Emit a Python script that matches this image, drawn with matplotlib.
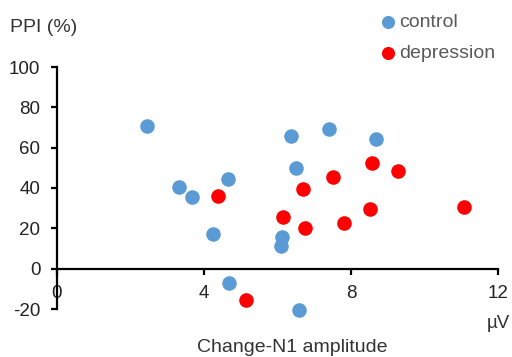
import matplotlib
matplotlib.use("Agg")
import matplotlib.pyplot as plt

plt.rcParams['font.family'] = ['Liberation Sans', 'DejaVu Sans']
plt.rcParams['axes.unicode_minus'] = False

# control group: Change-N1 amplitude (uV) vs PPI (%)
control_x = [2.45, 3.32, 3.67, 4.24, 4.65, 4.68, 6.37, 6.5, 7.4, 8.68, 6.12, 6.1, 6.59]
control_y = [70.6, 40.3, 35.3, 17.4, 44.3, -7.0, 65.7, 49.8, 69.5, 64.2, 15.9, 11.2, -20.4]

# depression group
depr_x = [4.38, 5.14, 6.15, 6.69, 6.75, 7.51, 7.81, 8.57, 8.52, 9.28, 11.07]
depr_y = [35.8, -15.4, 25.4, 39.3, 20.4, 45.5, 22.4, 52.2, 29.4, 48.3, 30.8]

xticks = [0, 4, 8, 12]
yticks = [-20, 0, 20, 40, 60, 80, 100]

fig = plt.figure(figsize=(5.12, 3.57), dpi=100)
W, H = 512, 357
ax = fig.add_axes([57 / W, (H - 309) / H, (498 - 57) / W, (309 - 67) / H])

ax.scatter(control_x, control_y, s=110, color='#5B9BD5', label='control',
           clip_on=False, zorder=3, linewidths=0)
ax.scatter(depr_x, depr_y, s=110, color='#FF0000', label='depression',
           clip_on=False, zorder=3, linewidths=0)

ax.set_xlim(0, 12)
ax.set_ylim(-20, 100)
ax.spines['top'].set_visible(False)
ax.spines['right'].set_visible(False)
ax.spines['bottom'].set_position(('data', 0))
ax.spines['bottom'].set_linewidth(1.6)
ax.spines['left'].set_linewidth(1.6)

ax.set_xticks(xticks)
ax.set_yticks(yticks)
ax.tick_params(axis='both', labelsize=13.5, colors='#000000', width=1.6, length=4,
               labelcolor='#222222')
ax.tick_params(axis='x', pad=8)
ax.tick_params(axis='y', pad=8)

leg = ax.legend(loc='upper left', bbox_to_anchor=(376 / W, 1 - 13 / H),
                bbox_transform=fig.transFigure, frameon=False, fontsize=14,
                markerscale=0.9, handletextpad=0.0, labelspacing=0.7,
                borderaxespad=0, borderpad=0, handlelength=1.2)
for t in leg.get_texts():
    t.set_color('#595959')

fig.text(10 / W, 1 - 27 / H, 'PPI (%)', fontsize=14, color='#333333',
         ha='left', va='center')
fig.text(498 / W, 1 - 323 / H, 'µV', fontsize=13.5, color='#333333',
         ha='center', va='center')
fig.text(292 / W, 1 - 347 / H, 'Change-N1 amplitude', fontsize=14,
         color='#333333', ha='center', va='center')

fig.savefig('out.png', dpi=100, facecolor='white')
